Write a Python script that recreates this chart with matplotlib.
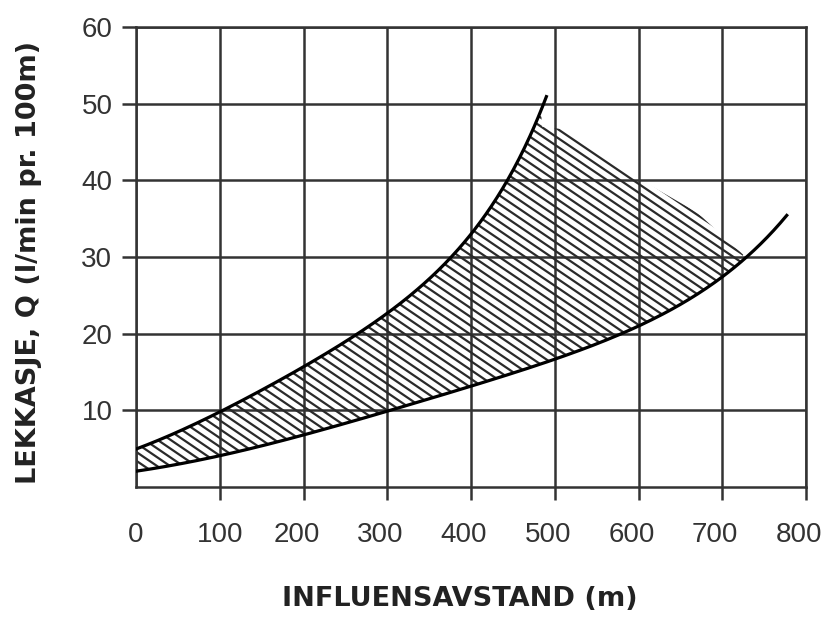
import numpy as np
import matplotlib
matplotlib.use("Agg")
import matplotlib.pyplot as plt
from matplotlib.patches import Polygon
from matplotlib.transforms import ScaledTranslation

# upper curve
upper_x = [0, 100, 200, 273, 300, 375, 400, 443, 470, 490]
upper_q = [4.9, 10.1, 15.4, 20.0, 22.9, 30.0, 33.8, 40.0, 45.0, 50.9]

# lower curve
lower_x = [0, 100, 200, 300, 400, 500, 578, 600, 700, 729, 777]
lower_q = [2.0, 4.3, 6.8, 9.7, 12.8, 16.5, 20.0, 21.6, 27.9, 30.0, 34.7]

# right-hand edge of the hatched band
edge_x = [485, 515, 602, 670, 725]
edge_q = [47.0, 46.6, 40.1, 35.8, 30.3]

x_ticks = list(range(0, 801, 100))
y_ticks = list(range(10, 61, 10))

plt.rcParams['font.family'] = ['Liberation Sans', 'DejaVu Sans']


def smooth(xs, qs, x_new):
    # smooth line through the read points (cubic fit in log space)
    coef = np.polyfit(xs, np.log(qs), 3)
    return np.exp(np.polyval(coef, x_new))


fig = plt.figure(figsize=(8.24, 6.17), dpi=100)
ax = fig.add_axes([136 / 824, 130 / 617, 670 / 824, 460 / 617])

ux = np.linspace(upper_x[0], upper_x[-1], 300)
uq = smooth(upper_x, upper_q, ux)
lx = np.linspace(lower_x[0], lower_x[-1], 300)
lq = smooth(lower_x, lower_q, lx)

# hatched band: upper curve up to where the edge starts, edge, then lower curve back
ux_band = ux[ux <= edge_x[0]]
lx_band = lx[lx <= edge_x[-1]]
band_x = np.concatenate([ux_band, edge_x, lx_band[::-1]])
band_q = np.concatenate([smooth(upper_x, upper_q, ux_band), edge_q,
                         smooth(lower_x, lower_q, lx_band)[::-1]])
band = Polygon(np.column_stack([band_x, band_q]), closed=True,
               facecolor='none', edgecolor='none')
ax.add_patch(band)

# hatch lines, shallower than 45 degrees, clipped to the band
slope = -0.074
hx = np.array([-50, 850])
for b in np.arange(0, 125, 1.15):
    ln, = ax.plot(hx, b + slope * hx, color='#2a2a2a', lw=1.6, zorder=2)
    ln.set_clip_path(band)

ax.plot(ux, uq, color='black', lw=2.3, zorder=3)
ax.plot(lx, lq, color='black', lw=2.3, zorder=3)

ax.set_xlim(0, 800)
ax.set_ylim(0, 60)
ax.set_xticks(x_ticks)
ax.set_yticks(y_ticks)
ax.grid(True, color='#333333', lw=1.8)
ax.set_axisbelow(True)
for s in ax.spines.values():
    s.set_color('#333333')
    s.set_linewidth(1.8)

ax.tick_params(axis='both', direction='out', color='#333333', width=1.8,
               labelsize=20, labelcolor='#333333')
ax.tick_params(axis='x', length=9.5, pad=16)
ax.tick_params(axis='y', length=10, pad=7)
ax.xaxis.get_major_ticks()[0].tick1line.set_visible(False)

# x tick labels sit a little left of their ticks in the original
shift = ScaledTranslation(-7 / 100, 0, fig.dpi_scale_trans)
for lab in ax.get_xticklabels()[2:]:
    lab.set_transform(lab.get_transform() + shift)

fig.text(460 / 824, 1 - 599 / 617, 'INFLUENSAVSTAND (m)', ha='center',
         va='center', fontsize=19.5, fontweight='bold', color='#222222',
         family='DejaVu Sans')
fig.text(29 / 824, 1 - 262 / 617, 'LEKKASJE, Q (l/min pr. 100m)', ha='center',
         va='center', rotation=90, fontsize=19.5, fontweight='bold', color='#222222',
         family='DejaVu Sans')

fig.savefig('out.png', dpi=100)
